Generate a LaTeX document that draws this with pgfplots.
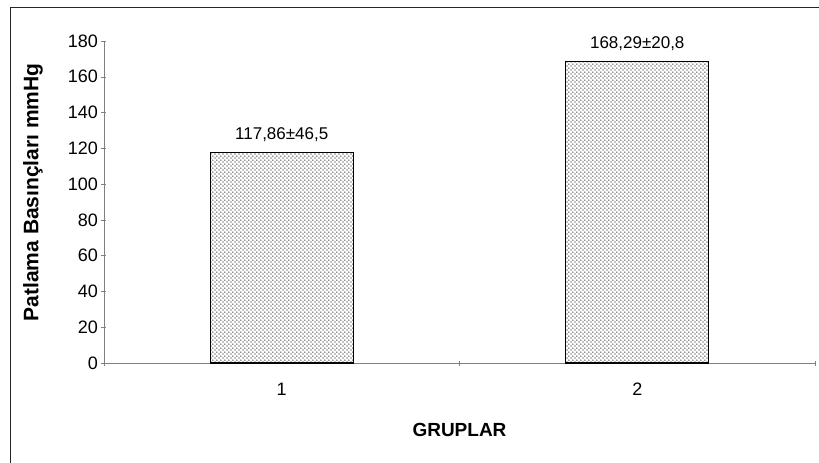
\documentclass[border=0pt]{standalone}
\usepackage{pgfplots}
\pgfplotsset{compat=1.18}
\usepackage{fontspec}
\setmainfont{Liberation Sans}
\usetikzlibrary{patterns}

\pgfdeclarepatternformonly{excel dots}{\pgfpointorigin}{\pgfqpoint{4.4bp}{4.4bp}}{\pgfqpoint{4.4bp}{4.4bp}}{
  \pgfpathcircle{\pgfqpoint{1.1bp}{1.1bp}}{0.75bp}
  \pgfpathcircle{\pgfqpoint{3.3bp}{3.3bp}}{0.75bp}
  \pgfusepath{fill}
}

\pgfplotstableread{
x y label
1 117.86 117,86±46,5
2 168.29 168,29±20,8
}\basinc

\newcommand{\chartfont}{\fontsize{17bp}{20bp}\selectfont}
\newcommand{\tickfont}{\fontsize{18bp}{21bp}\selectfont}

\begin{document}
\begin{tikzpicture}[font=\chartfont]
\begin{axis}[
  at={(0,0)}, anchor=south west,
  scale only axis,
  width=711bp, height=322bp,
  xmin=0.5, xmax=2.5,
  ymin=0, ymax=180,
  ytick={0,20,...,180},
  xtick={1,2},
  minor xtick={0.5,1.5,2.5},
  major x tick style={draw=none},
  tick align=outside,
  major tick length=5bp,
  minor tick length=5bp,
  tick style={gray, thin},
  axis x line=bottom,
  axis y line=left,
  axis line style={-, gray, thin},
  /pgf/number format/assume math mode=true,
  yticklabel style={font=\tickfont},
  xticklabel style={font=\tickfont, yshift=-14bp},
  xlabel={GRUPLAR},
  ylabel={Patlama Basınçları mmHg},
  xlabel style={font=\fontsize{19bp}{22bp}\selectfont\bfseries,
    at={(axis description cs:0.5,-0.208)}, anchor=center},
  ylabel style={font=\fontsize{21bp}{24bp}\selectfont\bfseries,
    at={(axis description cs:-0.1,0.53)}, anchor=center},
  clip=false,
]
\addplot[ybar, bar width=143bp, draw=black, line width=1.1pt,
  pattern=excel dots, pattern color=black,
  nodes near coords, point meta=explicit symbolic,
  every node near coord/.append style={yshift=7bp, font=\chartfont}]
  table[x=x, y=y, meta=label] {\basinc};
\end{axis}
\draw[black!85] (-93.5bp,-120bp) rectangle (730bp,356bp);
\pgfresetboundingbox
\path[use as bounding box] (-104bp,-100bp) rectangle (715bp,363bp);
\end{tikzpicture}
\end{document}
